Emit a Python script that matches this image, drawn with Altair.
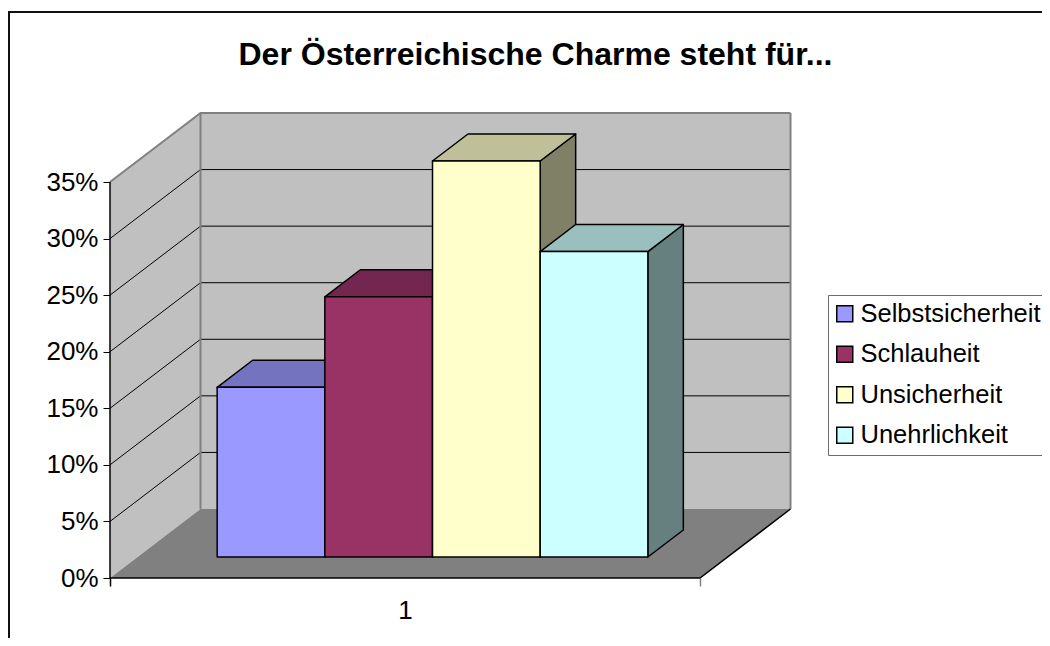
import altair as alt
import pandas as pd

# ---- values
series = ["Selbstsicherheit", "Schlauheit", "Unsicherheit", "Unehrlichkeit"]
values = [0.15, 0.23, 0.35, 0.27]
front_colors = ["#9999FF", "#993366", "#FFFFCC", "#CCFFFF"]
top_colors = ["#7373BF", "#732650", "#BFBF99", "#99BFBF"]
side_colors = ["#4D4D80", "#4D1A33", "#808066", "#668080"]
y_ticks = [0, 0.05, 0.10, 0.15, 0.20, 0.25, 0.30, 0.35]
category_label = "1"
title_text = "Der Österreichische Charme steht für..."

FONT = "Liberation Sans"
AX_MAX = 0.35
# plot-area size and fake-3D depth projection (px relations of the oblique view)
W, H = 681, 466
PX_PER_X = 590.0          # px for one category width
PX_PER_Y = 396.0 / 0.35   # px for 100 %
DEPTH_X = 90.5 / PX_PER_X     # shift of the back wall along x
DEPTH_Y = 69.0 / PX_PER_Y     # shift of the back wall along y
X_MAX = W / PX_PER_X
Y_MAX = H / PX_PER_Y
GAP = 0.135               # space beside the bar group
BAR_F, BAR_B = 0.304, 0.696  # depth range of the bars (front, back)


def px(f):  # x after moving f of the way into the depth
    return f * DEPTH_X


def py(f):
    return f * DEPTH_Y


x_scale = alt.Scale(domain=[0, X_MAX], nice=False, zero=False)
y_scale = alt.Scale(domain=[0, Y_MAX], nice=False, zero=False)
x_axis = alt.Axis(
    values=[0, 0.5, 1], grid=False, domain=False, tickSize=8, tickWidth=1.5,
    tickColor={"condition": {"test": "datum.value == 1", "value": "#808080"}, "value": "#000000"},
    tickOpacity={"condition": {"test": "datum.value == 0.5", "value": 0}, "value": 1},
    labelExpr="datum.value == 0.5 ? '%s' : ''" % category_label,
    labelFontSize=26, labelFont=FONT, labelColor="#000000", labelPadding=11,
    labelOverlap=False, labelFlush=False)
y_axis = alt.Axis(
    values=y_ticks, format=".0%", grid=False, domain=False, tickSize=7, tickWidth=1,
    tickColor="#000000", labelFontSize=26, labelFont=FONT, labelColor="#000000",
    labelPadding=5, labelOverlap=False)
X = lambda f="x": alt.X(f, type="quantitative", scale=x_scale, axis=x_axis, title=None)
Y = lambda f="y": alt.Y(f, type="quantitative", scale=y_scale, axis=y_axis, title=None)


def vface(rows, fill, **mk):
    """Polygon with two vertical sides: rows of (x, y_low, y_high)."""
    d = pd.DataFrame(rows, columns=["x", "y", "y2"])
    return alt.Chart(d).mark_area(fill=fill, orient="vertical", **mk).encode(
        x=X(), y=Y(), y2="y2")


def hface(rows, fill, **mk):
    """Polygon with two horizontal sides: rows of (y, x_left, x_right)."""
    d = pd.DataFrame(rows, columns=["y", "x", "x2"])
    return alt.Chart(d).mark_area(fill=fill, orient="horizontal", **mk).encode(
        y=Y(), x=X(), x2="x2")


def polyline(points, color, width):
    d = pd.DataFrame(points, columns=["x", "y", "g"])
    d["o"] = range(len(d))
    return alt.Chart(d).mark_line(color=color, strokeWidth=width, clip=False).encode(
        x=X(), y=Y(), detail="g:N", order="o:Q")


layers = []

# frame of the picture: left and top lines only, running off the page
frame_x = (9.0 - 110) / PX_PER_X
frame_top = (578 - 12.0) / PX_PER_Y
frame_bottom = (578 - 660.0) / PX_PER_Y
frame_right = (1060.0 - 110) / PX_PER_X
layers.append(polyline([(frame_x, frame_bottom, "l"), (frame_x, frame_top, "l"),
                        (frame_right, frame_top, "l")], "#111111", 2))

# walls and floor
wall_c, floor_c, edge_c = "#C0C0C0", "#808080", "#808080"
top_v = AX_MAX
layers.append(vface([(px(1), py(1), py(1) + top_v), (1 + px(1), py(1), py(1) + top_v)], wall_c))
layers.append(vface([(0, 0, top_v), (px(1), py(1), py(1) + top_v)], wall_c))

# gridlines, along side wall and back wall
grid = []
for v in y_ticks[1:-1]:
    grid += [(0, v, str(v)), (px(1), v + py(1), str(v)), (1 + px(1), v + py(1), str(v))]
layers.append(polyline(grid, "#000000", 1))

layers.append(polyline([(0, top_v, "a"), (px(1), top_v + py(1), "a"), (1 + px(1), top_v + py(1), "a")], edge_c, 2))
layers.append(polyline([(px(1), py(1), "b"), (px(1), py(1) + top_v, "b")], edge_c, 2))
layers.append(polyline([(1 + px(1), py(1), "c"), (1 + px(1), py(1) + top_v, "c")], edge_c, 2))

layers.append(hface([(0, 0, 1), (py(1), px(1), 1 + px(1))], floor_c))
layers.append(polyline([(0, 0, "f"), (1, 0, "f"), (1 + px(1), py(1), "f")], "#000000", 1.5))
layers.append(polyline([(0, 0, "v"), (0, top_v, "v")], "#000000", 1.5))

# bars
bar_w = (1 - 2 * GAP) / len(values)
color_enc = alt.Color("s:N", scale=alt.Scale(domain=series, range=front_colors), legend=alt.Legend(
    orient="none", legendX=718, legendY=183, title=None, symbolType="square", symbolSize=256,
    symbolStrokeColor="#000000", symbolStrokeWidth=1.5, labelFontSize=25.5, labelFont=FONT,
    labelColor="#000000", labelLimit=400, rowPadding=13.5, padding=6, labelOffset=3,
    fillColor="#FFFFFF", strokeColor="#6e6e6e", cornerRadius=0, symbolOffset=-2))

for i, (name, v) in enumerate(zip(series, values)):
    a = GAP + i * bar_w
    b = a + bar_w
    ax, bx = a + px(BAR_F), b + px(BAR_F)
    y0, y1 = py(BAR_F), py(BAR_F) + v
    dx, dy = px(BAR_B) - px(BAR_F), py(BAR_B) - py(BAR_F)
    mk = dict(stroke="#000000", strokeWidth=1.5, strokeJoin="round")
    layers.append(vface([(bx, y0, y1), (bx + dx, y0 + dy, y1 + dy)], side_colors[i], **mk))
    layers.append(hface([(y1, ax, bx), (y1 + dy, ax + dx, bx + dx)], top_colors[i], **mk))
    d = pd.DataFrame({"x": [ax], "x2": [bx], "y": [y0], "y2": [y1], "s": [name]})
    layers.append(alt.Chart(d).mark_rect(**mk).encode(
        x=X(), x2="x2", y=Y(), y2="y2", color=color_enc))

chart = alt.layer(*layers).properties(
    width=W, height=H,
    padding={"left": 102, "top": 104, "right": 251, "bottom": 60},
    autosize=alt.AutoSizeParams(type="none"),
    background="#FFFFFF",
    title=alt.TitleParams(title_text, font=FONT, fontSize=32, fontWeight="bold", color="#000000",
                          anchor="middle", dx=85, offset=0, dy=89, baseline="alphabetic"),
).configure_view(stroke=None)

chart.save("out.html", embed_options={"renderer": "svg", "actions": False})
